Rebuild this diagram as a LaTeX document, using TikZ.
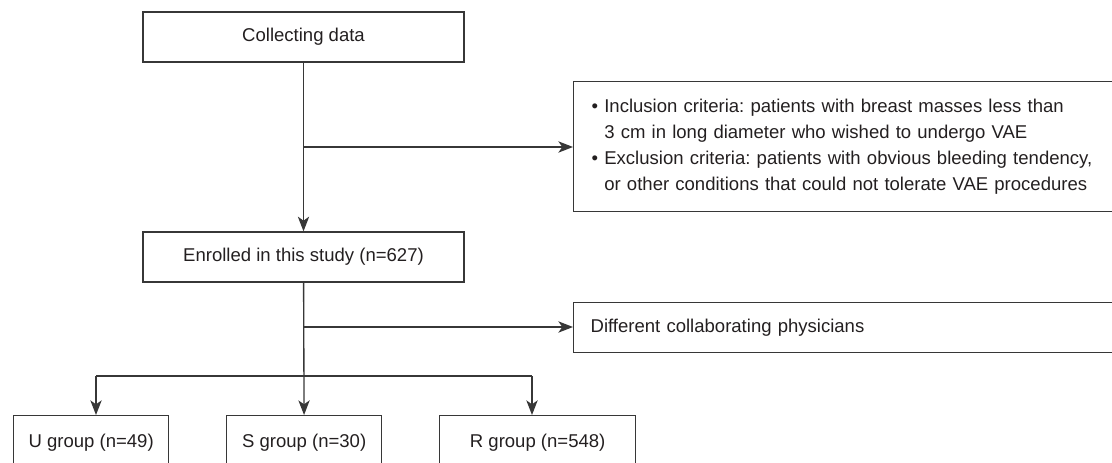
\documentclass[tikz,border=0pt]{standalone}
\usepackage{fontspec}
\setmainfont{Liberation Sans}
\usetikzlibrary{arrows.meta,calc,positioning}
\definecolor{linegray}{RGB}{55,55,55}
\definecolor{textgray}{RGB}{35,31,32}
\frenchspacing

\tikzset{
  box/.style={draw=linegray, line width=1pt, text=textgray, inner sep=0pt,
    font=\fontsize{13.9}{19.5}\selectfont},
  flow/.style={draw=linegray, line width=1pt, -{Stealth[length=11pt,width=8.5pt,inset=3pt]}},
  plain/.style={draw=linegray, line width=1pt},
}

\begin{document}
\begin{tikzpicture}[x=0.75pt, y=-0.75pt]
\useasboundingbox (0,0) rectangle (1112,463);
%--- colonna centrale ---
\node[box, minimum width=240.75pt, minimum height=37.5pt] (collect) at (303.5,37) {Collecting data};
\node[box, minimum width=240.75pt, minimum height=37.5pt] (enrol) at (303.5,257) {Enrolled in this study (n=627)};
% criteri
\node[box, anchor=north west, minimum height=97.5pt, text width=380pt, inner xsep=13.5pt, align=left] (crit) at (573,81)
  {\textbullet\ Inclusion criteria: patients with breast masses less than\\
   \phantom{\textbullet\ }3 cm in long diameter who wished to undergo VAE\\
   \textbullet\ Exclusion criteria: patients with obvious bleeding tendency,\\
   \phantom{\textbullet\ }or other conditions that could not tolerate VAE procedures};
\node[box, anchor=north west, minimum height=37.5pt, text width=384pt, inner xsep=12.75pt, align=left] (diff) at (573,302)
  {Different collaborating physicians};
% gruppi
\node[box, anchor=north west, minimum width=116.25pt, minimum height=40.5pt] (ugrp) at (13,415) {U group (n=49)};
\node[box, anchor=north west, minimum width=116.25pt, minimum height=40.5pt] (sgrp) at (226,415) {S group (n=30)};
\node[box, anchor=north west, minimum width=147pt, minimum height=40.5pt] (rgrp) at (439,415) {R group (n=548)};

%--- collegamenti ---
\coordinate (b1) at (303.5,147);
\coordinate (b2) at (303.5,327);
\coordinate (bl) at (96,376);
\coordinate (br) at (532,376);
\draw[flow] (collect) -- (enrol);
\draw[flow] (b1) -- (b1 -| crit.west);
\draw[flow] (enrol) -- (sgrp);
\draw[flow] (b2) -- (b2 -| diff.west);
\draw[plain] (bl) -- (br);
\draw[flow] (bl) -- (bl |- ugrp.north);
\draw[flow] (br) -- (br |- rgrp.north);
\end{tikzpicture}
\end{document}
